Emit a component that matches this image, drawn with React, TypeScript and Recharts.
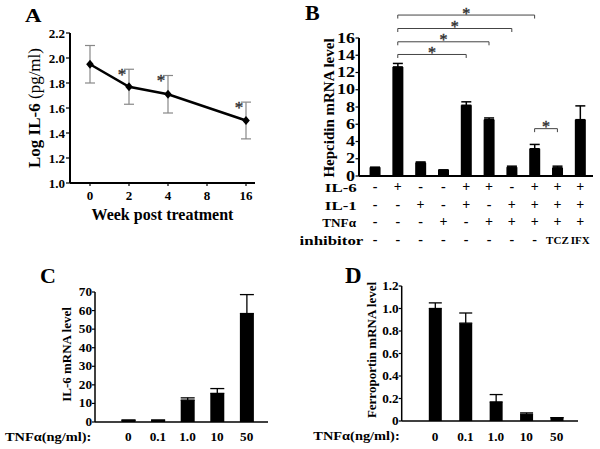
import React from 'react';
import { LineChart, Line, BarChart, Bar, XAxis, YAxis, ErrorBar, ReferenceLine, ReferenceDot } from 'recharts';

const FONT = '"Liberation Serif", "Times New Roman", serif';

// A: serum IL-6 (log) after treatment
const weeks = ['0', '2', '4', '8', '16'];
const logIl6 = [1.95, 1.77, 1.71, null, 1.5];
const logIl6Err = [0.15, 0.14, 0.15, null, 0.147];
const weeksSig = ['2', '4', '16'];

// B: hepcidin mRNA by cytokine combination
const hepcidin = [1.0, 12.65, 1.53, 0.7, 8.2, 6.53, 1.02, 3.16, 0.95, 6.53];
const hepcidinErr = [0, 0.4, 0.1, 0, 0.4, 0.2, 0.12, 0.5, 0.19, 1.6];
const rowNames = ['IL-6', 'IL-1', 'TNFα', 'inhibitor'];
const rowIl6 = ['-', '+', '-', '-', '+', '+', '-', '+', '+', '+'];
const rowIl1 = ['-', '-', '+', '-', '+', '-', '+', '+', '+', '+'];
const rowTnf = ['-', '-', '-', '+', '-', '+', '+', '+', '+', '+'];
const rowInhibitor = ['-', '-', '-', '-', '-', '-', '-', '-', 'TCZ', 'IFX'];
const bracketFrom = [1, 1, 1, 1, 7];
const bracketTo = [7, 6, 5, 4, 8];
const bracketLevel = [18.66, 17.1, 15.56, 14.09, 5.49];

// C: IL-6 mRNA vs TNFa dose
const doses = ['0', '0.1', '1.0', '10', '50'];
const il6Mrna = [1.0, 1.0, 11.8, 15.4, 58.4];
const il6MrnaErr = [0, 0, 1.2, 2.6, 10.2];

// D: ferroportin mRNA vs TNFa dose
const ferroportin = [1.0, 0.87, 0.17, 0.06, 0.03];
const ferroportinErr = [0.05, 0.09, 0.065, 0.012, 0];

const dataA = weeks.map((w, i) => ({ week: w, mean: logIl6[i], err: logIl6Err[i] }));
const dataB = hepcidin.map((v, i) => ({ idx: i, value: v, err: [0, hepcidinErr[i]] }));
const dataC = il6Mrna.map((v, i) => ({ idx: i, value: v, err: [0, il6MrnaErr[i]] }));
const dataD = ferroportin.map((v, i) => ({ idx: i, value: v, err: [0, ferroportinErr[i]] }));
const treatmentRows = [rowIl6, rowIl1, rowTnf, rowInhibitor];

type TP = {
  x: number; y: number; size: number; sx?: number; anchor?: 'start' | 'middle' | 'end';
  weight?: string | number; fill?: string; rotate?: boolean; outline?: boolean; children: React.ReactNode;
};
function SText({ x, y, size, sx = 1, anchor = 'middle', weight = 'bold', fill = '#000', rotate = false, outline = false, children }: TP) {
  const t = `translate(${x},${y})` + (sx !== 1 ? ` scale(${sx},1)` : '') + (rotate ? ' rotate(-90)' : '');
  return (
    <text transform={t} textAnchor={anchor} fontSize={size} fontWeight={weight} fontFamily={FONT} fill={fill}
      stroke={outline ? fill : undefined} strokeWidth={outline ? 0.4 : undefined}>
      {children}
    </text>
  );
}

const yTick = (size: number, sx: number, fmt: (v: number) => string, dy: number) => (p: any) => (
  <SText x={p.x} y={p.y + dy} size={size} sx={sx} anchor="end">{fmt(p.payload.value)}</SText>
);
const xTick = (size: number, sx: number, labels: string[], dy: number) => (p: any) => (
  <SText x={p.x} y={p.y + dy} size={size} sx={sx}>{labels[p.payload.value] ?? p.payload.value}</SText>
);

// A pieces
const diamond = (p: any) => {
  if (p.cx == null || p.cy == null || p.value == null) return <g key={p.index} />;
  return <path key={p.index} d={`M${p.cx},${p.cy - 4.5}L${p.cx + 3.8},${p.cy}L${p.cx},${p.cy + 4.5}L${p.cx - 3.8},${p.cy}Z`} fill="#000" />;
};
const starA = (p: any) => (
  <SText x={p.cx - 7} y={p.cy + 10.5} size={17} weight="normal" fill="#333" outline>*</SText>
);
const aYLabel = (p: any) => {
  const vb = p.viewBox || { y: 33, height: 150 };
  return (
    <text transform={`translate(39.5,${vb.y + vb.height / 2}) rotate(-90)`} textAnchor="middle" fontFamily={FONT} fontSize={17} fill="#000">
      <tspan fontWeight="bold">Log IL-6 </tspan>
      <tspan>(pg/ml)</tspan>
    </text>
  );
};
const aXLabel = (p: any) => {
  const vb = p.viewBox || { x: 70, y: 183, width: 185 };
  return <SText x={vb.x + vb.width / 2} y={vb.y + 37} size={16}>Week post treatment</SText>;
};

// B pieces
const rowDy = [14.7, 33, 49.7, 68];
const rowLabelX = [56.7, 56.7, 56, 63.3];
const bTick = (p: any) => {
  const i = p.payload.value;
  return (
    <g>
      {treatmentRows.map((row, r) => {
        const s = row[i];
        const long = s.length > 1;
        return <SText key={r} x={p.x} y={p.y + rowDy[r]} size={long ? 10.5 : 14} sx={long ? 1.05 : 1}>{s}</SText>;
      })}
    </g>
  );
};
const bRowLabels = (p: any) => {
  const vb = p.viewBox || { y: 176 };
  return (
    <g>
      {rowNames.map((n, r) => (
        <SText key={n} x={rowLabelX[r]} y={vb.y + rowDy[r] + 1.3} anchor="end" size={r === 2 ? 12 : 13.5} sx={r === 2 ? 1.1 : 1.25}>{n}</SText>
      ))}
    </g>
  );
};
const bYLabel = (p: any) => {
  const vb = p.viewBox || { y: 38, height: 138 };
  return <SText x={33.5} y={vb.y + vb.height / 2 + 1} size={15} rotate>Hepcidin mRNA level</SText>;
};
const bracketShape = (p: any) => (
  <path d={`M${p.x1},${p.y1 + 3.5}V${p.y1}H${p.x2}V${p.y2 + 3.5}`} fill="none" stroke="#444" strokeWidth={1} />
);
const starB = (p: any) => (
  <SText x={p.cx} y={p.cy + 3.5} size={16} weight="normal" fill="#333" outline>*</SText>
);

// C / D pieces
const doseLabel = (x: number) => (p: any) => {
  const vb = p.viewBox || { y: 172 };
  return <SText x={x} y={vb.y + 19} size={12} sx={1.2} anchor="start">TNFα(ng/ml):</SText>;
};
const cdYLabel = (x: number, text: string, shift: number) => (p: any) => {
  const vb = p.viewBox || { y: 40, height: 130 };
  return <SText x={x} y={vb.y + vb.height / 2 + shift} size={13} rotate>{text}</SText>;
};

const fmtA = (v: number) => v.toFixed(1);
const fmtInt = (v: number) => String(v);
const fmtD = (v: number) => (v === 0 ? '0' : v.toFixed(1));

export default function App() {
  return (
    <div style={{ position: 'fixed', left: 0, top: 0, width: 600, height: 449, background: '#fff', overflow: 'hidden' }}>
      <div style={{ position: 'absolute', left: 0, top: 0 }}>
        <LineChart width={300} height={230} data={dataA} margin={{ top: 33, right: 45, bottom: 7, left: 10 }}>
          <XAxis dataKey="week" padding={{ left: 20, right: 9 }} height={40} stroke="#000" strokeWidth={2}
            tickSize={3} tickMargin={2} tickLine={{ stroke: '#000', strokeWidth: 1.2 }}
            tick={xTick(13, 1, [], 12)} interval={0} label={aXLabel} />
          <YAxis domain={[1.0, 2.2]} ticks={[1.0, 1.2, 1.4, 1.6, 1.8, 2.0, 2.2]} interval={0} width={60} stroke="#000" strokeWidth={2}
            tickSize={4} tickMargin={1} tickLine={{ stroke: '#000', strokeWidth: 1.2 }}
            tick={yTick(13, 1, fmtA, 4.5)} label={aYLabel} />
          <Line dataKey="mean" stroke="#000" strokeWidth={2.5} connectNulls dot={diamond} isAnimationActive={false}>
            <ErrorBar dataKey="err" stroke="#888" strokeWidth={1.2} width={5} />
          </Line>
          {weeksSig.map((w) => {
            const i = weeks.indexOf(w);
            return <ReferenceDot key={w} x={w} y={(logIl6[i] as number) + (logIl6Err[i] as number)} r={0} ifOverflow="visible" shape={starA} />;
          })}
        </LineChart>
      </div>

      <div style={{ position: 'absolute', left: 300, top: 0 }}>
        <BarChart width={300} height={260} data={dataB} margin={{ top: 38, right: 7, bottom: 4, left: 19 }}>
          <XAxis type="number" dataKey="idx" domain={[-0.7, 9.56]} ticks={[0, 1, 2, 3, 4, 5, 6, 7, 8, 9]} interval={0}
            height={80} stroke="#000" strokeWidth={2} tickLine={false} tickSize={0} tickMargin={0}
            tick={bTick} label={bRowLabels} allowDataOverflow />
          <YAxis domain={[0, 16]} ticks={[0, 2, 4, 6, 8, 10, 12, 14, 16]} interval={0} width={40} stroke="#000" strokeWidth={2}
            tickSize={3.5} tickMargin={0.5} tickLine={{ stroke: '#000', strokeWidth: 1.2 }}
            tick={yTick(15, 1.2, fmtInt, 4.5)} label={bYLabel} />
          <Bar dataKey="value" fill="#000" barSize={11} isAnimationActive={false}>
            <ErrorBar dataKey="err" stroke="#000" strokeWidth={1.5} width={5} />
          </Bar>
          {bracketLevel.map((lv, k) => (
            <ReferenceLine key={'l' + k} segment={[{ x: bracketFrom[k], y: lv }, { x: bracketTo[k], y: lv }]}
              ifOverflow="visible" shape={bracketShape} />
          ))}
          {bracketLevel.map((lv, k) => (
            <ReferenceDot key={'s' + k} x={(bracketFrom[k] + bracketTo[k]) / 2} y={lv} r={0} ifOverflow="visible" shape={starB} />
          ))}
        </BarChart>
      </div>

      <div style={{ position: 'absolute', left: 0, top: 250 }}>
        <BarChart width={300} height={199} data={dataC} margin={{ top: 42, right: 32, bottom: 2, left: 45 }}>
          <XAxis type="number" dataKey="idx" domain={[-1.125, 4.72]} ticks={[0, 1, 2, 3, 4]} interval={0}
            height={25} stroke="#000" strokeWidth={1.5} tickLine={false} tickSize={0} tickMargin={0}
            tick={xTick(11.5, 1.15, doses, 19)} label={doseLabel(5)} allowDataOverflow />
          <YAxis domain={[0, 70]} ticks={[0, 10, 20, 30, 40, 50, 60, 70]} interval={0} width={50} stroke="#000" strokeWidth={1.5}
            tickSize={3} tickMargin={0} tickLine={{ stroke: '#000', strokeWidth: 1.2 }}
            tick={yTick(11.5, 1.15, fmtInt, 4)} label={cdYLabel(70.5, 'IL-6 mRNA level', -2.5)} />
          <Bar dataKey="value" fill="#000" barSize={14} isAnimationActive={false}>
            <ErrorBar dataKey="err" stroke="#000" strokeWidth={1.3} width={7} />
          </Bar>
        </BarChart>
      </div>

      <div style={{ position: 'absolute', left: 300, top: 250 }}>
        <BarChart width={300} height={199} data={dataD} margin={{ top: 36, right: 22, bottom: 3, left: 51.7 }}>
          <XAxis type="number" dataKey="idx" domain={[-1.095, 4.7]} ticks={[0, 1, 2, 3, 4]} interval={0}
            height={25} stroke="#000" strokeWidth={1.5} tickLine={false} tickSize={0} tickMargin={0}
            tick={xTick(11.5, 1.15, doses, 19.7)} label={doseLabel(13.3)} allowDataOverflow />
          <YAxis domain={[0, 1.2]} ticks={[0, 0.2, 0.4, 0.6, 0.8, 1.0, 1.2]} interval={0} width={50} stroke="#000" strokeWidth={1.5}
            tickSize={3} tickMargin={0} tickLine={{ stroke: '#000', strokeWidth: 1.2 }}
            tick={yTick(11.5, 1.15, fmtD, 4)} label={cdYLabel(76, 'Ferroportin mRNA level', -3.5)} />
          <Bar dataKey="value" fill="#000" barSize={13} isAnimationActive={false}>
            <ErrorBar dataKey="err" stroke="#000" strokeWidth={1.3} width={6.5} />
          </Bar>
        </BarChart>
      </div>

      <svg width={600} height={449} style={{ position: 'absolute', left: 0, top: 0, pointerEvents: 'none' }}>
        <SText x={25} y={22} size={19} sx={1.2} anchor="start">A</SText>
        <SText x={305} y={20} size={22} anchor="start">B</SText>
        <SText x={40} y={283.3} size={22} anchor="start">C</SText>
        <SText x={345} y={283.3} size={23} anchor="start">D</SText>
      </svg>
    </div>
  );
}
